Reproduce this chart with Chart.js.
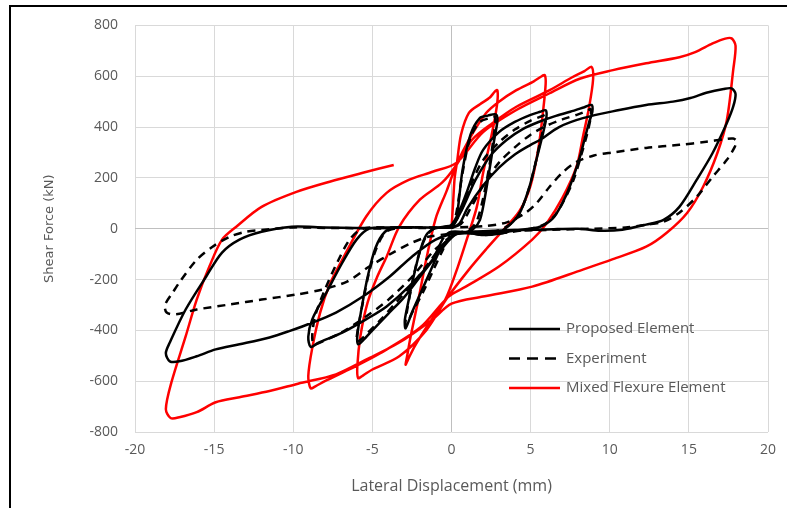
<!DOCTYPE html>
<html>
<head>
<meta charset="utf-8">
<script src="https://cdn.jsdelivr.net/npm/chart.js@4.4.1/dist/chart.umd.min.js"></script>
<style>
  html, body { margin: 0; padding: 0; background: #fff; }
  #wrap { position: relative; width: 787px; height: 508px; }
  #frame { position: absolute; left: 9px; top: 5px; right: 0; bottom: 0;
           border-top: 2px solid #000; border-left: 2px solid #000; pointer-events: none; }
</style>
</head>
<body>
<div id="wrap">
  <canvas id="chart" width="787" height="508"></canvas>
  <div id="frame"></div>
</div>
<script>
// hysteresis data: [displacement (mm), shear (kN)]
const proposed = [
  [0,0],[0.3,35],[0.7,232],[1.2,370],[1.8,436],[2.3,445],[2.8,450],
  [2.9,425],[2.7,350],[2.4,232],[2.1,120],[1.8,35],[1.4,0],[1,-12],[0.4,-18],
  [-0.5,-60],[-1,-120],[-1.5,-190],[-2,-260],[-2.5,-330],[-2.9,-392],
  [-2.95,-360],[-2.7,-280],[-2.4,-190],[-2,-90],[-1.6,-25],[-1.1,0],[-0.5,8],[0,15],
  [0.5,70],[1,150],[1.5,240],[2,310],[3,380],[4,420],[5,448],[5.6,460],[5.95,466],
  [6,440],[5.8,380],[5.4,280],[4.9,160],[4.3,60],[3.6,10],[3,-12],[2,-20],[1,-18],[0.2,-25],
  [-1,-110],[-2,-190],[-3,-270],[-4,-335],[-5,-400],[-5.6,-440],[-5.9,-455],
  [-5.95,-420],[-5.7,-320],[-5.3,-190],[-4.8,-75],[-4.2,-12],[-3.5,4],[-2,5],[-1,5],[0,10],
  [0.7,80],[1.5,190],[2.5,290],[3.5,350],[4.5,392],[5.5,420],[6.5,442],[7.5,460],[8.4,478],[8.85,487],
  [8.9,460],[8.7,420],[8.4,350],[8.1,280],[7.5,170],[7,100],[6.4,40],[5.7,10],[5,0],[4,-6],[3,-20],[2,-25],[1,-15],[0,-12],
  [-0.5,-35],[-1.2,-122],[-2.7,-228],[-4.1,-306],[-5.4,-357],[-6.9,-409],[-8.4,-448],[-8.9,-465],
  [-9.05,-425],[-8.8,-357],[-7.9,-251],[-6.9,-134],[-6,-43],[-5.2,0],[-4,5],[-2,5],[0,5],[0.5,20],
  [1,80],[2,170],[3,240],[4,292],[5,330],[5.6,350],[6.8,400],[8.3,435],[10.6,467],[12.3,487],[14,500],[15.1,514],[16.1,535],[17.2,550],[17.7,552],
  [17.95,530],[17.8,480],[17.4,416],[16.5,298],[15.5,193],[14.4,86],[13.4,35],[12.3,16],[10.8,-4],[9.4,-8],[8,0],[6,-3],[4,-5],[2,-10],[0.5,-15],
  [-1,-43],[-2.5,-110],[-3.9,-188],[-5.6,-267],[-7.3,-330],[-8.8,-370],[-10.3,-404],[-11.5,-428],[-13.4,-455],[-14.9,-475],[-16.1,-502],[-17.2,-522],[-17.8,-522],
  [-18.05,-490],[-17.8,-448],[-16.8,-318],[-15.5,-188],[-14.5,-94],[-13.4,-43],[-12,-12],[-10.1,8],[-8,5],[-6,3],[-3.65,2]
];

const experiment = [
  [0,0],[0.3,60],[0.7,220],[1.2,360],[1.8,420],[2.4,435],[2.75,440],
  [2.7,380],[2.4,250],[2,120],[1.6,30],[1.2,0],[0.5,-15],[0,-20],
  [-0.6,-90],[-1.2,-170],[-1.8,-250],[-2.4,-320],[-2.9,-380],
  [-2.8,-320],[-2.5,-220],[-2.1,-110],[-1.6,-30],[-1.1,0],[0,10],
  [0.6,70],[1.2,170],[2,270],[3,340],[4,390],[5,425],[5.8,445],[6,450],
  [5.9,420],[5.6,340],[5.2,230],[4.7,120],[4.1,40],[3.4,5],[2.5,-15],[1.5,-20],[0.5,-15],
  [-0.5,-60],[-1.5,-140],[-2.5,-220],[-3.5,-290],[-4.5,-360],[-5.3,-410],[-5.8,-440],[-6,-445],
  [-5.9,-390],[-5.6,-290],[-5.2,-170],[-4.7,-70],[-4.1,-10],[-3,5],[-1,5],[0.5,15],
  [1.2,80],[2,170],[3,260],[4,320],[5,370],[6,405],[7,430],[8,450],[8.6,465],[8.8,470],
  [8.8,440],[8.6,380],[8.2,290],[7.7,190],[7.1,110],[6.5,50],[5.8,15],[5,0],[3.5,-15],[2,-25],[0.5,-15],
  [-1,-80],[-2.5,-190],[-4,-280],[-5.5,-350],[-7,-410],[-8.2,-445],[-8.7,-455],
  [-8.8,-420],[-8.6,-340],[-8,-240],[-7.2,-130],[-6.4,-40],[-5.6,0],[-4,5],[-2,3],[0,5],[2,10],
  [3.5,25],[4.7,63],[5.4,102],[6.2,165],[7,220],[7.9,263],[9,288],[10.2,300],[12.3,318],[14.4,330],[16.1,342],[17.2,352],[17.8,355],[18,345],
  [17.9,322],[17.4,271],[16.5,204],[15.5,126],[14.4,63],[13.4,27],[12.3,16],[11,5],[9,0],[6,-5],[3,-10],[1,-15],[0,-20],
  [-1.4,-31],[-2.5,-55],[-3.7,-94],[-5.2,-149],[-6.6,-208],[-8.2,-240],[-9.8,-259],[-12,-279],[-14,-298],[-16.1,-318],[-17.4,-337],[-18,-330],
  [-18.1,-300],[-17.6,-250],[-17.2,-212],[-16.1,-122],[-15.1,-71],[-14,-31],[-13,-12],[-12,-5],[-10,5],[-8,3],[-6,2],[-3.65,0]
];

const mixedFlexure = [
  [0,0],[0.1,100],[0.2,200],[0.35,262],[0.6,370],[1.1,456],[1.8,490],[2.4,515],[2.75,540],[2.9,545],
  [2.9,500],[2.7,420],[2.4,330],[2,220],[1.6,86],[1.1,-16],[0.4,-150],[-0.4,-280],[-1.5,-380],[-2.3,-460],[-2.75,-515],[-2.9,-535],
  [-2.8,-500],[-2.6,-430],[-2.3,-340],[-2,-250],[-1.6,-122],[-1,40],[-0.3,150],[0.3,250],[1.1,350],[2.2,456],[3,500],[4.1,545],[5.2,580],[5.7,600],[5.9,604],
  [5.95,570],[5.8,470],[5.5,320],[5,170],[4.3,70],[3.2,-10],[2.2,-80],[1.1,-161],[-0.3,-275],[-1.6,-400],[-3.3,-502],[-5,-554],[-5.6,-578],[-5.9,-588],
  [-5.95,-540],[-5.75,-420],[-5.3,-290],[-4.7,-190],[-4.1,-110],[-3.3,8],[-2,114],[-0.6,181],[0.3,250],[1.3,350],[2.6,416],[4.1,480],[6.2,545],[7.6,595],[8.4,620],[8.85,637],
  [8.95,590],[8.7,480],[8.3,360],[7.9,244],[7,120],[6,20],[5.1,-43],[3,-149],[0.9,-228],[-0.2,-268],[-2,-390],[-4.5,-490],[-6.5,-555],[-8,-600],[-8.6,-620],[-8.9,-628],
  [-9.05,-580],[-8.8,-470],[-8.3,-330],[-7.7,-220],[-6.9,-122],[-5.4,47],[-4.1,141],[-2.7,192],[-1.2,224],[0.3,259],[2,380],[4.1,467],[6.2,533],[8.1,590],[10.2,624],[12.3,651],[14.4,675],[15.4,695],[16.5,729],[17.3,748],[17.7,749],
  [17.95,720],[17.8,624],[17.4,428],[16.8,298],[15.9,165],[14.9,63],[13.6,-16],[12.3,-71],[10.2,-120],[8.3,-161],[5.1,-228],[2,-267],[0,-295],[-1.2,-357],[-3.3,-448],[-5.4,-515],[-7.3,-573],[-9.7,-610],[-11.5,-639],[-13.4,-663],[-14.9,-683],[-16.1,-722],[-17.2,-742],[-17.75,-745],
  [-18.05,-710],[-17.7,-605],[-16.8,-424],[-16.1,-279],[-15.3,-149],[-14.5,-43],[-13.6,8],[-12,86],[-9.8,145],[-7.7,185],[-5.6,220],[-3.65,251]
];

const seriesNames = ['Proposed Element', 'Experiment', 'Mixed Flexure Element'];
const xTicks = [-20, 20, 5];
const yTicks = [-800, 800, 200];

const gray = '#595959';
const toPoints = arr => arr.map(p => ({ x: p[0], y: p[1] }));

// legend drawn inside the plot, lower right
const insideLegend = {
    id: 'insideLegend',
    afterDatasetsDraw(chart) {
        const ctx = chart.ctx;
        chart.data.datasets.forEach((ds, i) => {
            const y = 329 + i * 29.5;
            ctx.save();
            ctx.strokeStyle = ds.borderColor;
            ctx.lineWidth = 2.5;
            ctx.setLineDash(ds.borderDash ? [11, 7] : []);
            ctx.beginPath();
            ctx.moveTo(509, y);
            ctx.lineTo(560, y);
            ctx.stroke();
            ctx.setLineDash([]);
            ctx.fillStyle = gray;
            ctx.font = '15px "Open Sans"';
            ctx.textBaseline = 'middle';
            ctx.fillText(ds.label, 566, y);
            ctx.restore();
        });
    }
};

new Chart(document.getElementById('chart'), {
    type: 'scatter',
    data: {
        datasets: [
            { label: seriesNames[0], data: toPoints(proposed), borderColor: '#000000' },
            { label: seriesNames[1], data: toPoints(experiment), borderColor: '#000000', borderDash: [8, 6] },
            { label: seriesNames[2], data: toPoints(mixedFlexure), borderColor: '#ff0000' }
        ]
    },
    options: {
        responsive: false,
        animation: false,
        showLine: true,
        layout: { padding: { top: 25, right: 19, bottom: 0, left: 0 } },
        elements: {
            point: { radius: 0 },
            line: { borderWidth: 2.5, tension: 0.3, fill: false }
        },
        plugins: { legend: { display: false }, tooltip: { enabled: false } },
        scales: {
            x: {
                type: 'linear', min: xTicks[0], max: xTicks[1],
                ticks: { stepSize: xTicks[2], color: gray, font: { family: 'Open Sans', size: 14 }, padding: 10 },
                grid: { color: c => c.tick.value === 0 ? '#bfbfbf' : '#d9d9d9', drawTicks: false },
                border: { display: false },
                title: { display: true, text: 'Lateral Displacement (mm)', color: gray,
                         font: { family: 'Open Sans', size: 16 }, padding: { top: 0, bottom: 12 } },
                afterFit: s => { s.height = 76; }
            },
            y: {
                type: 'linear', min: yTicks[0], max: yTicks[1],
                ticks: { stepSize: yTicks[2], color: gray, font: { family: 'Open Sans', size: 14 }, padding: 17 },
                grid: { color: c => c.tick.value === 0 ? '#bfbfbf' : '#d9d9d9', drawTicks: false },
                border: { display: false },
                title: { display: true, text: 'Shear Force (kN)', color: gray,
                         font: { family: 'DejaVu Sans', size: 13 }, padding: { top: 42, bottom: 0 } },
                afterFit: s => { s.width = 135; }
            }
        }
    },
    plugins: [insideLegend]
});
</script>
</body>
</html>
